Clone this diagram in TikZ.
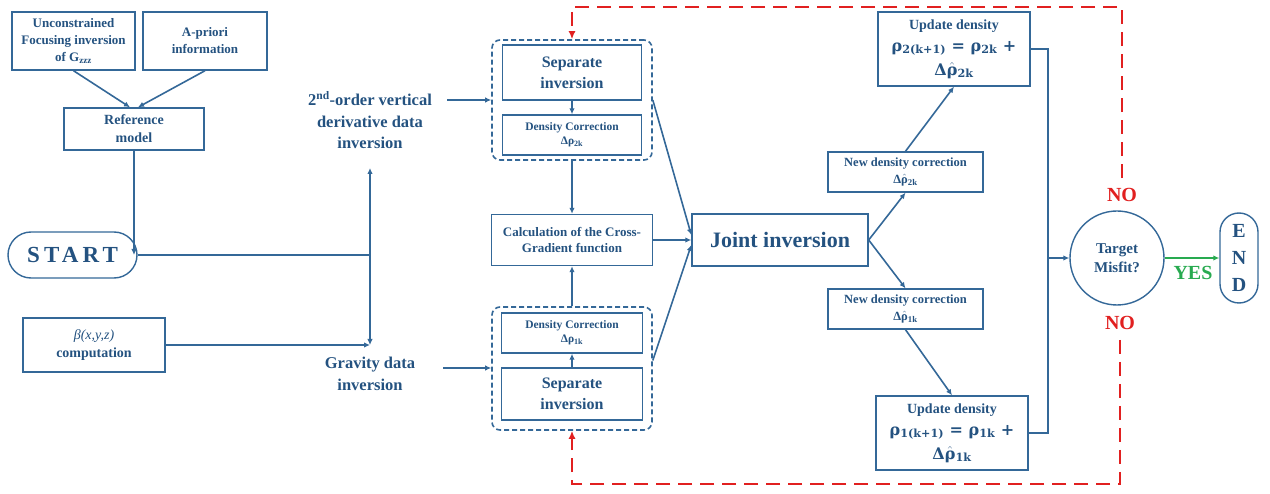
\documentclass[tikz,border=0pt]{standalone}
\usepackage{fontspec}
\setmainfont{Liberation Serif}
\newfontfamily\rf{DejaVu Serif}
\usetikzlibrary{arrows.meta,shapes.geometric}
\definecolor{bl}{RGB}{52,104,152}
\definecolor{tx}{RGB}{36,82,128}
\definecolor{rd}{RGB}{225,32,32}
\definecolor{gn}{RGB}{40,170,80}
\newcommand{\fs}[1]{\fontsize{#1pt}{1.3\dimexpr #1pt\relax}\selectfont}
\newcommand{\rhohat}{$\hat{\mbox{\bfseries ρ}}$}
\tikzset{
  box/.style={draw=bl, line width=1.4pt, text=tx, font=\bfseries, align=center, inner sep=0pt, rectangle},
  lbl/.style={text=tx, font=\bfseries, align=center, inner sep=0pt},
  arr/.style={draw=bl, line width=1.6pt, -{Latex[length=6pt,width=5.5pt]}},
  ln/.style={draw=bl, line width=1.8pt},
  grp/.style={draw=bl, line width=1.6pt, rounded corners=8pt, dash pattern=on 5pt off 3pt, rectangle, inner sep=0pt},
  fbarr/.style={draw=rd, line width=2.6pt, dash pattern=on 14pt off 8pt, -{Latex[length=8pt,width=7pt]}},
  garr/.style={draw=gn, line width=1.5pt, -{Latex[length=6pt,width=5.5pt]}},
  upd/.style={box, minimum width=152pt, minimum height=74pt, font=\bfseries\fontsize{14pt}{22pt}\selectfont},
}
\begin{document}
\begin{tikzpicture}[x=1pt,y=-1pt]
\useasboundingbox (0,0) rectangle (1270,494);
% left column
\node[box, minimum width=123pt, minimum height=58pt, font=\bfseries\fs{13}] (unc) at (73.5,41) {Unconstrained\\Focusing inversion\\of G\textsubscript{zzz}};
\node[box, minimum width=124pt, minimum height=58pt, font=\bfseries\fs{13}] (apr) at (205,41) {A-priori\\information};
\node[box, minimum width=140pt, minimum height=42pt, font=\bfseries\fs{14}] (ref) at (134,129) {Reference\\model};
\node[box, minimum width=129pt, minimum height=46pt, rounded corners=23pt, font=\bfseries\fs{23}] (start) at (72.5,255) {\addfontfeatures{LetterSpace=18}START};
\node[box, minimum width=142pt, minimum height=54pt, font=\bfseries\fs{14}] (beta) at (94,345) {{\mdseries\itshape β(x,y,z)}\\computation};
\node[lbl, font=\bfseries\fs{16.5}] (t2) at (370,120) {2\textsuperscript{nd}-order vertical\\derivative data\\inversion};
\node[lbl, font=\bfseries\fs{16.5}] (tg) at (370,374) {Gravity data\\inversion};
\coordinate (j1) at (370,255);
\coordinate (vt) at (370,168);
\coordinate (vb) at (370,345);
\coordinate (a2) at (447,100);
\coordinate (ag) at (443,368);
% middle column
\node[grp, minimum width=160pt, minimum height=120pt] (grpA) at (572,100) {};
\node[box, minimum width=139pt, minimum height=55pt, font=\bfseries\fs{16}] (sepA) at (572,72.5) {Separate\\inversion};
\node[box, minimum width=139pt, minimum height=40pt, font=\bfseries\fs{11.5}] (dcA) at (572,135) {Density Correction\\[-1pt]Δρ\textsubscript{2k}};
\node[box, minimum width=161pt, minimum height=51pt, font=\bfseries\fs{13}] (calc) at (572,240) {Calculation of the Cross-\\Gradient function};
\node[grp, minimum width=160pt, minimum height=123pt] (grpB) at (572,368.5) {};
\node[box, minimum width=141pt, minimum height=40pt, font=\bfseries\fs{11.5}] (dcB) at (572,333) {Density Correction\\[-1pt]Δρ\textsubscript{1k}};
\node[box, minimum width=141pt, minimum height=52pt, font=\bfseries\fs{16}] (sepB) at (572,394) {Separate\\inversion};
% right part
\node[box, minimum width=176pt, minimum height=52pt, font=\bfseries\fs{22}] (joint) at (780,240) {Joint inversion};
\node[box, minimum width=155pt, minimum height=40pt, font=\bfseries\fs{12.5}] (ndA) at (905.5,172) {New density correction\\[1pt]Δ\rhohat\textsubscript{2k}};
\node[box, minimum width=155pt, minimum height=40pt, font=\bfseries\fs{12.5}] (ndB) at (905.5,309) {New density correction\\[1pt]Δ\rhohat\textsubscript{1k}};
\node[upd] (upA) at (954,49) {Update density\\{\rf\fontsize{16pt}{22pt}\selectfont ρ\textsubscript{2(k+1)} = ρ\textsubscript{2k} +}\\[2pt]{\rf\fontsize{16pt}{22pt}\selectfont Δ\rhohat\textsubscript{2k}}};
\node[upd] (upB) at (952,433) {Update density\\{\rf\fontsize{16pt}{22pt}\selectfont ρ\textsubscript{1(k+1)} = ρ\textsubscript{1k} +}\\[2pt]{\rf\fontsize{16pt}{22pt}\selectfont Δ\rhohat\textsubscript{1k}}};
\coordinate (m) at (1048,258);
\node[box, circle, minimum size=94pt, font=\bfseries\fs{15}] (circ) at (1117,258) {Target\\Misfit?};
\node[box, minimum width=38pt, minimum height=90pt, rounded corners=19pt, font=\bfseries\fs{20}] (endn) at (1239,258) {E\\[1pt]N\\[1pt]D};
\node[lbl, text=rd, font=\bfseries\fs{20}] (noA) at (1122,195) {NO};
\node[lbl, text=rd, font=\bfseries\fs{20}] (noB) at (1120,323) {NO};
\node[lbl, text=gn, font=\bfseries\fs{20}] (yes) at (1193,273) {YES};
\coordinate (rt) at (572,7);
\coordinate (rb) at (572,484);
% connectors
\draw[arr] (unc.south) -- ([xshift=-4pt]ref.north);
\draw[arr] (apr.south) -- ([xshift=4pt]ref.north);
\draw[arr] (ref.south) -- (ref.south |- start.east);
\draw[ln] (start.east) -- (j1);
\draw[arr] (j1) -- (vt);
\draw[arr] (j1) -- (vb);
\draw[arr] (beta.east) -- (vb);
\draw[arr] (a2) -- (a2 -| grpA.west);
\draw[arr] (ag) -- (ag -| grpB.west);
\draw[arr] (sepA.south) -- (dcA.north);
\draw[arr] (grpA.south) -- (calc.north);
\draw[arr] (grpB.north) -- (calc.south);
\draw[arr] (sepB.north) -- (dcB.south);
\draw[arr] (grpA.east) -- ([yshift=5pt]joint.west);
\draw[arr] (calc.east) -- (joint.west);
\draw[arr] ([yshift=8pt]grpB.east) -- ([yshift=-5pt]joint.west);
\draw[arr] (joint.east) -- (ndA.south);
\draw[arr] (ndA.north) -- (upA.south);
\draw[arr] (joint.east) -- (ndB.north);
\draw[arr] (ndB.south) -- (upB.north);
\draw[ln] (upA.east) -| (m);
\draw[ln] (upB.east) -| (m);
\draw[arr] (m) -- (circ.west);
\draw[garr] (circ.east) -- (endn.west);
\draw[fbarr] ([yshift=10pt]noA.north) |- (rt) -- (grpA.north);
\draw[fbarr] ([yshift=-10pt]noB.south) |- (rb) -- (grpB.south);
\end{tikzpicture}
\end{document}
